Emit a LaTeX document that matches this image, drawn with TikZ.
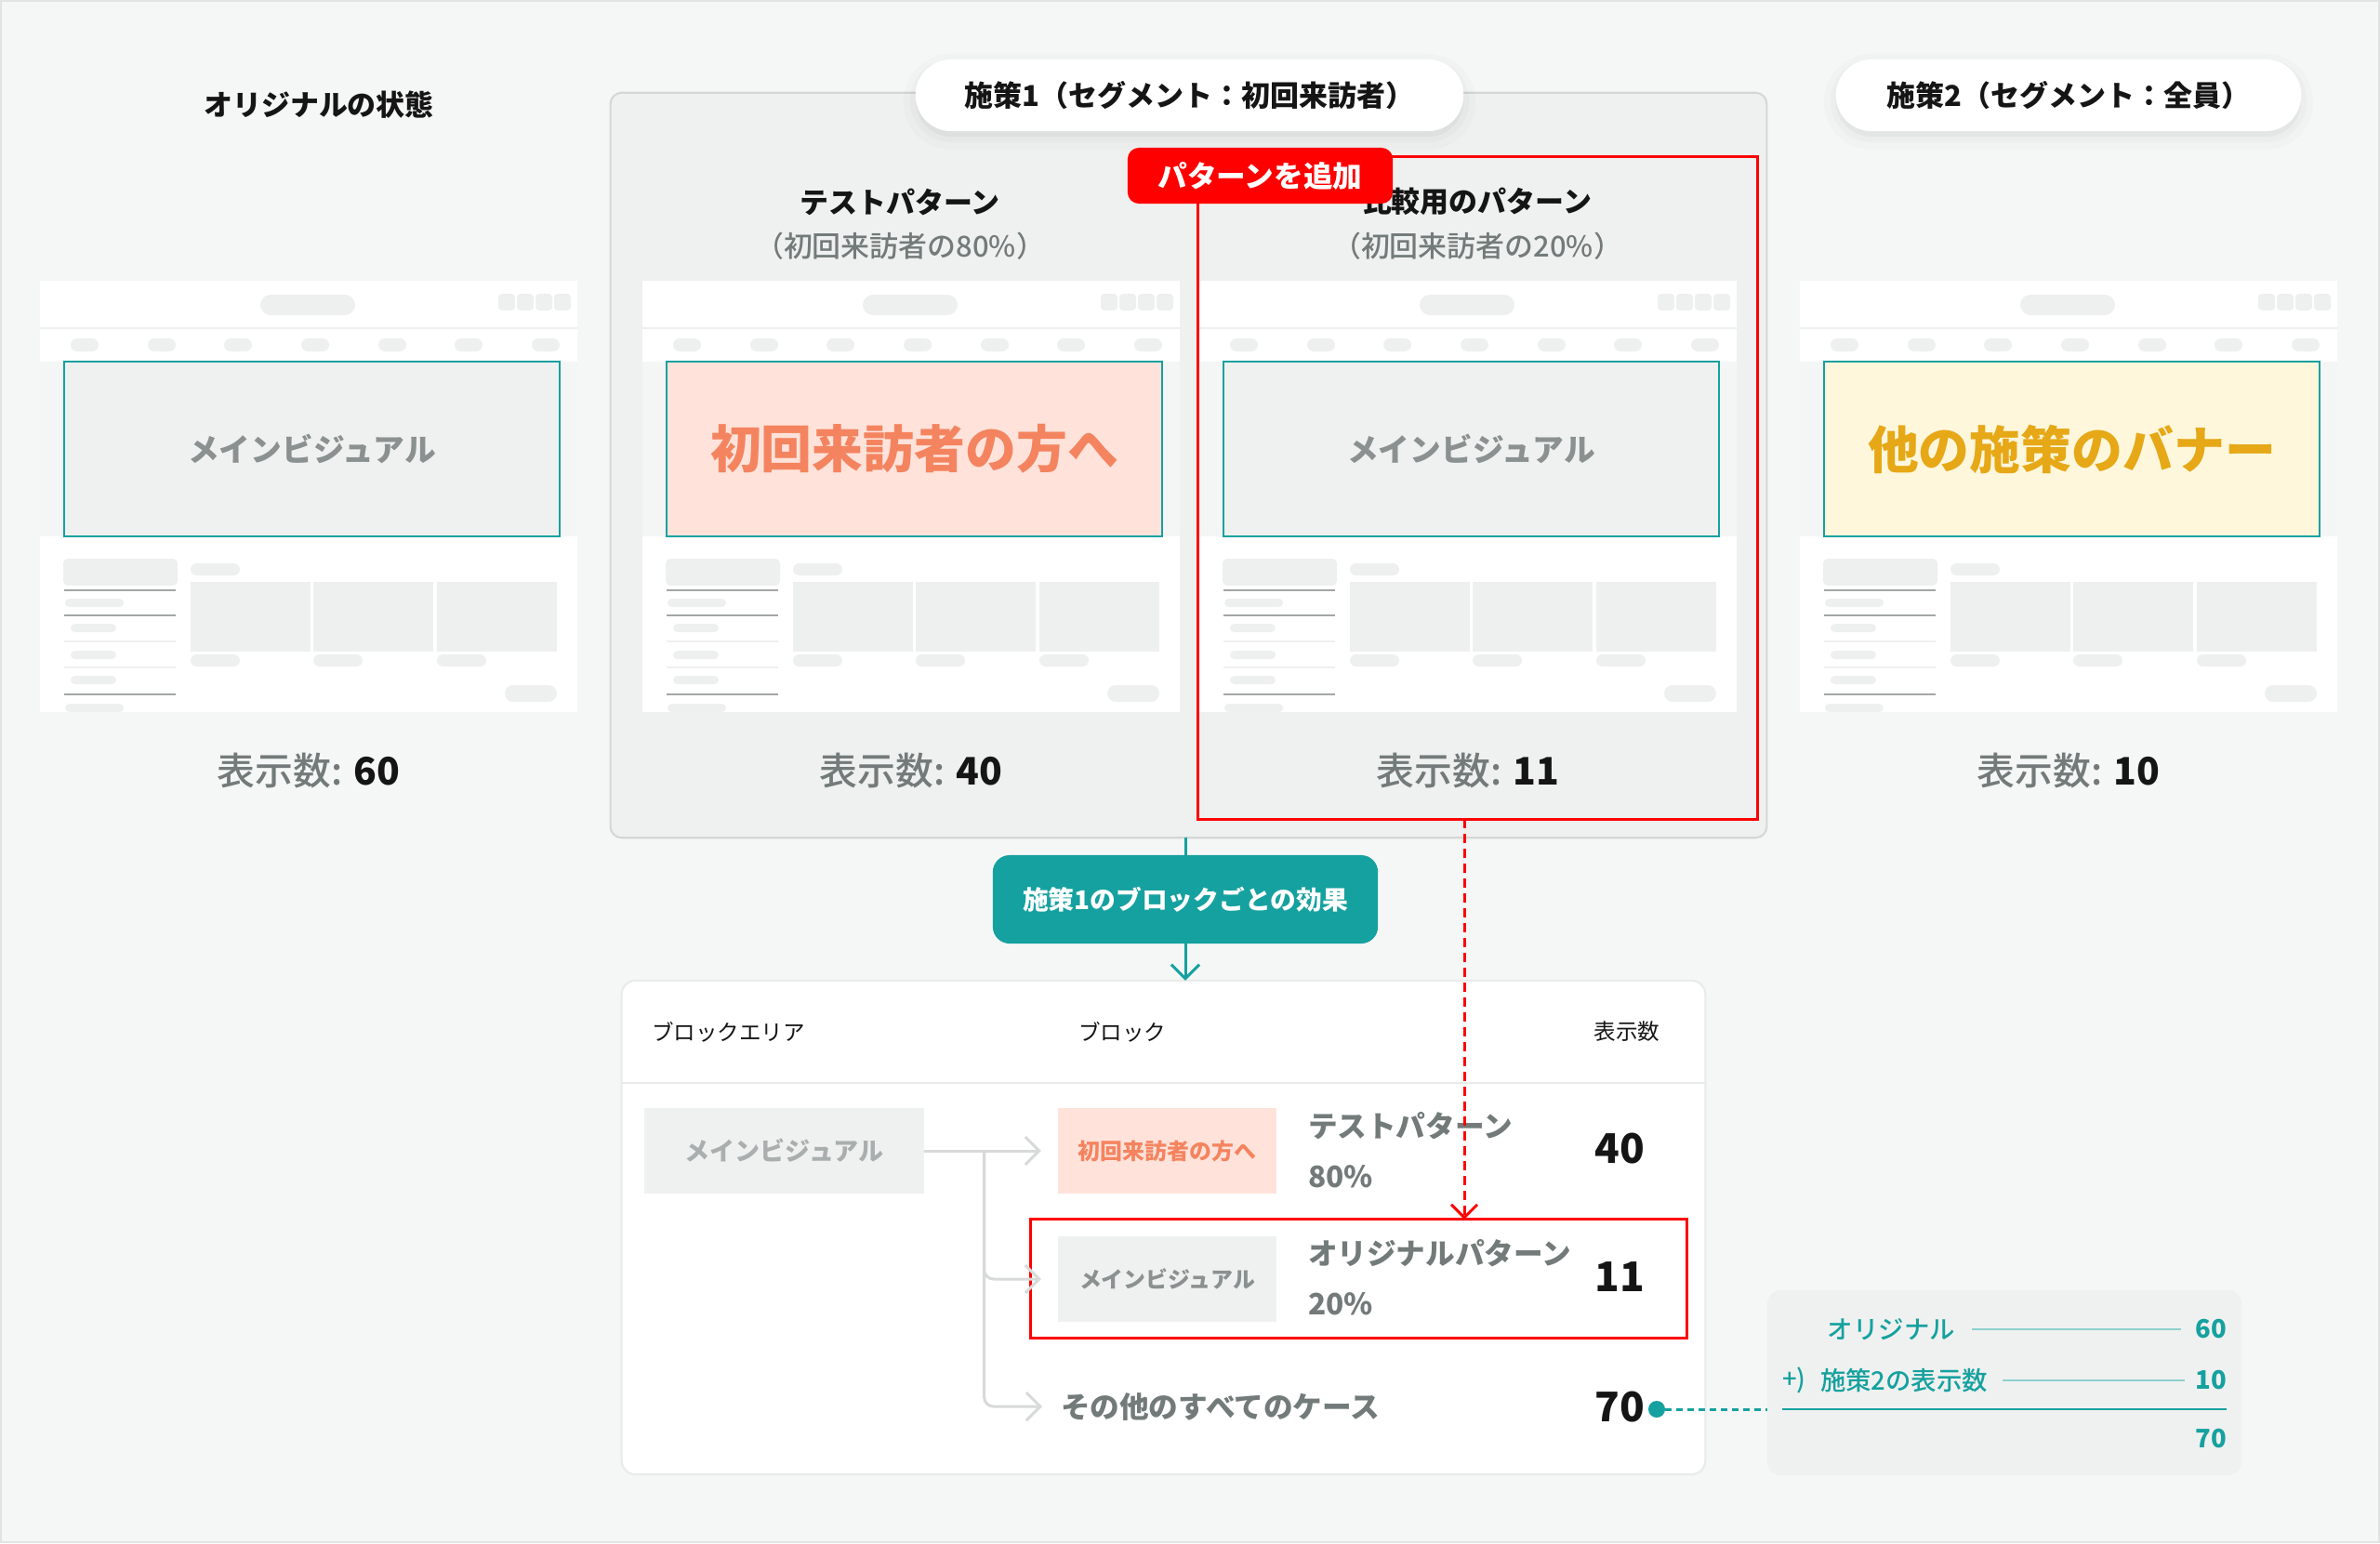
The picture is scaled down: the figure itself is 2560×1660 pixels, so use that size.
\documentclass[tikz,border=0pt]{standalone}
\usepackage{fontspec}
\setmainfont{Noto Sans CJK JP}
\newfontfamily\mediumjp{Noto Sans CJK JP Medium}
\usetikzlibrary{arrows.meta,positioning,calc}
\definecolor{bgcol}{HTML}{F5F7F6}
\definecolor{framecol}{HTML}{E2E4E3}
\definecolor{panelcol}{HTML}{EFF1F0}
\definecolor{panelline}{HTML}{D3D7D6}
\definecolor{mockgray}{HTML}{EEF0EF}
\definecolor{mockband}{HTML}{F4F6F5}
\definecolor{mockrule}{HTML}{A3A6A5}
\definecolor{tealc}{HTML}{15A19F}
\definecolor{tealpale}{HTML}{8DD0CE}
\definecolor{redc}{HTML}{FF0000}
\definecolor{coral}{HTML}{F4845F}
\definecolor{pinkfill}{HTML}{FFE3DB}
\definecolor{gold}{HTML}{E6A817}
\definecolor{creamfill}{HTML}{FFF7DC}
\definecolor{txtdark}{HTML}{151515}
\definecolor{txtgray}{HTML}{737B7A}
\definecolor{vistext}{HTML}{8A9190}
\definecolor{faint}{HTML}{A9AFAE}
\definecolor{flowgray}{HTML}{D7DAD9}
\definecolor{tblline}{HTML}{E9EBEA}
\newcommand\fsz[1]{\fontsize{#1}{#1}\selectfont}
\tikzset{
  every node/.style = {inner sep=0pt, outer sep=0pt},
  coltitle/.style   = {font=\fsz{8.8pt}\bfseries, text=txtdark},
  colsub/.style     = {font=\fsz{8.8pt}\mediumjp, text=txtgray},
  viewcount/.style  = {font=\fsz{11.6pt}\mediumjp, text=txtgray},
  pillshadow/.style = {preaction={fill=black, fill opacity=0.03, draw=black, draw opacity=0.02,
                       line width=0.12cm, transform canvas={yshift=-0.06cm}},
                       preaction={draw=black, draw opacity=0.015, line width=0.26cm,
                       transform canvas={yshift=-0.07cm}}},
  segpill/.style    = {pillshadow, fill=white, rounded corners=0.38cm, minimum height=0.77cm,
                       font=\fsz{8.8pt}\bfseries, text=txtdark},
  panel/.style      = {fill=panelcol, draw=panelline, line width=0.6pt, rounded corners=0.12cm},
  mainvis/.style    = {draw=tealc, line width=0.6pt, minimum width=5.33cm, minimum height=1.88cm},
  visplain/.style   = {fill=panelcol, text=vistext, font=\fsz{9.6pt}\bfseries},
  vispink/.style    = {fill=pinkfill, text=coral, font=\fsz{15.6pt}\bfseries},
  viscream/.style   = {fill=creamfill, text=gold, font=\fsz{15.6pt}\bfseries},
  redframe/.style   = {draw=redc, line width=0.85pt},
  addtag/.style     = {fill=redc, text=white, rounded corners=0.12cm, minimum width=2.85cm,
                       minimum height=0.6cm, font=\fsz{9pt}\bfseries},
  effbtn/.style     = {fill=tealc, text=white, rounded corners=0.18cm, minimum width=4.14cm,
                       minimum height=0.95cm, font=\fsz{7.9pt}\bfseries},
  tealline/.style   = {draw=tealc, line width=0.85pt},
  tealarrow/.style  = {tealline, -{Straight Barb[length=0.15cm, width=0.3cm]}},
  adddash/.style    = {redframe, dash pattern=on 0.1cm off 0.06cm,
                       -{Straight Barb[length=0.14cm, width=0.28cm]}},
  tblhead/.style    = {font=\fsz{6.7pt}, text=txtdark},
  blkcell/.style    = {minimum width=2.35cm, minimum height=0.92cm, font=\fsz{6.8pt}\bfseries},
  rowtext/.style    = {font=\fsz{9pt}\bfseries, text=txtgray, anchor=west},
  rowcount/.style   = {font=\fsz{12.5pt}\bfseries, text=txtdark},
  flow/.style       = {draw=flowgray, line width=0.85pt, -{Straight Barb[length=0.15cm, width=0.3cm]}},
  sumtext/.style    = {font=\fsz{7.8pt}\mediumjp, text=tealc, anchor=west},
  sumnum/.style     = {font=\fsz{7.8pt}\bfseries, text=tealc, anchor=east},
  sumrule/.style    = {draw=tealpale, line width=0.5pt},
  sumtotal/.style   = {draw=tealc, line width=0.8pt},
  sumlink/.style    = {draw=tealc, line width=0.85pt, dash pattern=on 0.07cm off 0.05cm},
  pics/mockpage/.style n args={2}{code={
    \begin{scope}
      \clip (0,0) rectangle (578,464);
      \fill[white] (0,0) rectangle (578,464);
      \fill[mockgray, rounded corners=0.11cm] (237,15) rectangle (339,37);
      \foreach \sx in {493,513,533,553}
        \fill[mockgray, rounded corners=0.04cm] (\sx,14) rectangle ++(18,18);
      \draw[mockgray, line width=0.4pt] (0,51) -- (578,51);
      \foreach \px in {48,131,213,296,379,461,544}
        \fill[mockgray, rounded corners=0.07cm] (\px-15,62) rectangle (\px+15,76);
      \fill[mockband] (0,87) rectangle (578,275);
      \node[mainvis, #1] (-mv) at (292.5,181) {#2};
      \fill[mockgray, rounded corners=0.05cm] (25,299) rectangle (148,328);
      \foreach \ly/\lc in {333/mockrule,360/mockrule,388/mockgray,416/mockgray,445/mockrule}
        \draw[\lc, line width=0.35pt] (26,\ly) -- (146,\ly);
      \foreach \ly/\lx/\lw in {342/27/63,369/33/49,398/33/49,425/33/49,455/27/63}
        \fill[mockgray, rounded corners=0.045cm] (\lx,\ly) rectangle ++(\lw,9);
      \fill[mockgray, rounded corners=0.065cm] (162,304) rectangle (215,317);
      \foreach \cx in {162,294,427} {
        \fill[mockgray] (\cx,324) rectangle ++(129,75);
        \fill[mockgray, rounded corners=0.065cm] (\cx,402) rectangle ++(53,13);
      }
      \fill[mockgray, rounded corners=0.09cm] (500,435) rectangle (556,453);
    \end{scope}
  }},
}

\begin{document}
\begin{tikzpicture}[x=0.01cm, y=-0.01cm]
  \useasboundingbox (0,0) rectangle (2560,1660);
  \fill[bgcol] (0,0) rectangle (2560,1660);
  \draw[framecol, line width=0.6pt] (1,1) rectangle (2559,1659);

  % original state
  \node[coltitle] (origtitle) at (343,113) {オリジナルの状態};
  \pic (mk1) at (43,302) {mockpage={visplain}{メインビジュアル}};
  \node[viewcount] (views1) at (332,829) {表示数: \textcolor{txtdark}{\bfseries 60}};

  % measure 1
  \node[panel, minimum width=12.43cm, minimum height=8.01cm] (grp1) at (1278.5,500.5) {};
  \node[coltitle] (testtitle) at (968,217) {テストパターン};
  \node[colsub] (testsub) at (968,265) {（初回来訪者の80\%）};
  \node[coltitle] (cmptitle) at (1589,217) {比較用のパターン};
  \node[colsub] (cmpsub) at (1589,265) {（初回来訪者の20\%）};
  \pic (mk2) at (691,302) {mockpage={vispink}{初回来訪者の方へ}};
  \pic (mk3) at (1290,302) {mockpage={visplain}{メインビジュアル}};
  \node[viewcount] (views2) at (980,829) {表示数: \textcolor{txtdark}{\bfseries 40}};
  \node[viewcount] (views3) at (1579,829) {表示数: \textcolor{txtdark}{\bfseries 11}};
  \node[redframe, minimum width=6.01cm, minimum height=7.12cm] (addbox) at (1589.5,525) {};
  \node[addtag] (addlabel) at (1355.5,189) {パターンを追加};
  \node[segpill, minimum width=5.89cm] (seg1) at (1279.5,102.5) {施策1（セグメント：初回来訪者）};

  % measure 2
  \node[segpill, minimum width=5.00cm] (seg2) at (2225,102.5) {施策2（セグメント：全員）};
  \pic (mk4) at (1936,302) {mockpage={viscream}{他の施策のバナー}};
  \node[viewcount] (views4) at (2225,829) {表示数: \textcolor{txtdark}{\bfseries 10}};

  % effect per block
  \node[effbtn] (effect) at (1275,967.5) {施策1のブロックごとの効果};
  \node[fill=white, draw=tblline, line width=0.6pt, rounded corners=0.15cm,
        minimum width=11.65cm, minimum height=5.31cm] (blktbl) at (1251.5,1320.5) {};
  \draw[tealline] (effect.north |- grp1.south) -- (effect.north);
  \draw[tealarrow] (effect.south) -- (effect.south |- blktbl.north);

  \node[tblhead, anchor=west] (hdarea) at (701,1110) {ブロックエリア};
  \node[tblhead, anchor=west] (hdblock) at (1160,1110) {ブロック};
  \node[tblhead] (hdcount) at (1750,1110) {表示数};
  \draw[tblline, line width=0.6pt] (blktbl.west |- 0,1165) -- (blktbl.east |- 0,1165);

  \node[blkcell, minimum width=3.0cm, fill=panelcol, text=faint, font=\fsz{7.7pt}\bfseries]
    (area1) at (843.5,1238) {メインビジュアル};
  \node[blkcell, fill=pinkfill, text=coral] (blkpink) at (1255.5,1238) {初回来訪者の方へ};
  \node[rowtext] (pat1) at (1407,1211) {テストパターン};
  \node[rowtext] (pct1) at (1407,1266) {80\%};
  \node[rowcount] (cnt1) at (1742,1236) {40};

  \node[redframe, minimum width=7.05cm, minimum height=1.27cm] (origrow) at (1461.5,1375.5) {};
  \node[blkcell, fill=panelcol, text=vistext] (blkorig) at (1255.5,1376) {メインビジュアル};
  \node[rowtext] (pat2) at (1407,1348) {オリジナルパターン};
  \node[rowtext] (pct2) at (1407,1403) {20\%};
  \node[rowcount] (cnt2) at (1742,1374) {11};

  \node[rowtext] (othercase) at (1141,1513) {その他のすべてのケース};
  \node[rowcount] (cnt3) at (1742,1514) {70};

  \coordinate (fork) at ($(area1.east)+(65,0)$);
  \draw[flow] (area1.east) -- ([xshift=-0.18cm]blkpink.west);
  \draw[flow, rounded corners=0.1cm] (fork) |- ([xshift=-0.18cm]blkorig.west);
  \draw[flow, rounded corners=0.1cm] (fork) |- ([xshift=-0.2cm]othercase.west);

  \coordinate (dashx) at (1575,0);
  \draw[adddash] (dashx |- addbox.south) -- (dashx |- origrow.north);

  % sum of views
  \node[fill=panelcol, rounded corners=0.15cm, minimum width=5.10cm, minimum height=1.99cm]
    (sumbox) at (2156,1487.5) {};
  \node[fill=tealc, circle, minimum size=0.18cm] (sumdot) at (1782,1516) {};
  \draw[sumlink] (sumdot) -- (sumdot -| sumbox.west);
  \node[sumtext, anchor=east] (sumorig) at (2103,1430) {オリジナル};
  \node[sumnum] (sumv1) at (2395,1430) {60};
  \node[sumtext] (sumplus) at (1917,1485) {+)};
  \node[sumtext] (sumadd) at (1958,1485) {施策2の表示数};
  \node[sumnum] (sumv2) at (2395,1485) {10};
  \node[sumnum] (sumv3) at (2395,1548) {70};
  \draw[sumrule] ([xshift=0.18cm]sumorig.east) -- ([xshift=-0.16cm]sumv1.west);
  \draw[sumrule] ([xshift=0.16cm]sumadd.east) -- ([xshift=-0.12cm]sumv2.west);
  \draw[sumtotal] (sumplus.west |- 0,1516) -- (sumv2.east |- 0,1516);
\end{tikzpicture}
\end{document}
